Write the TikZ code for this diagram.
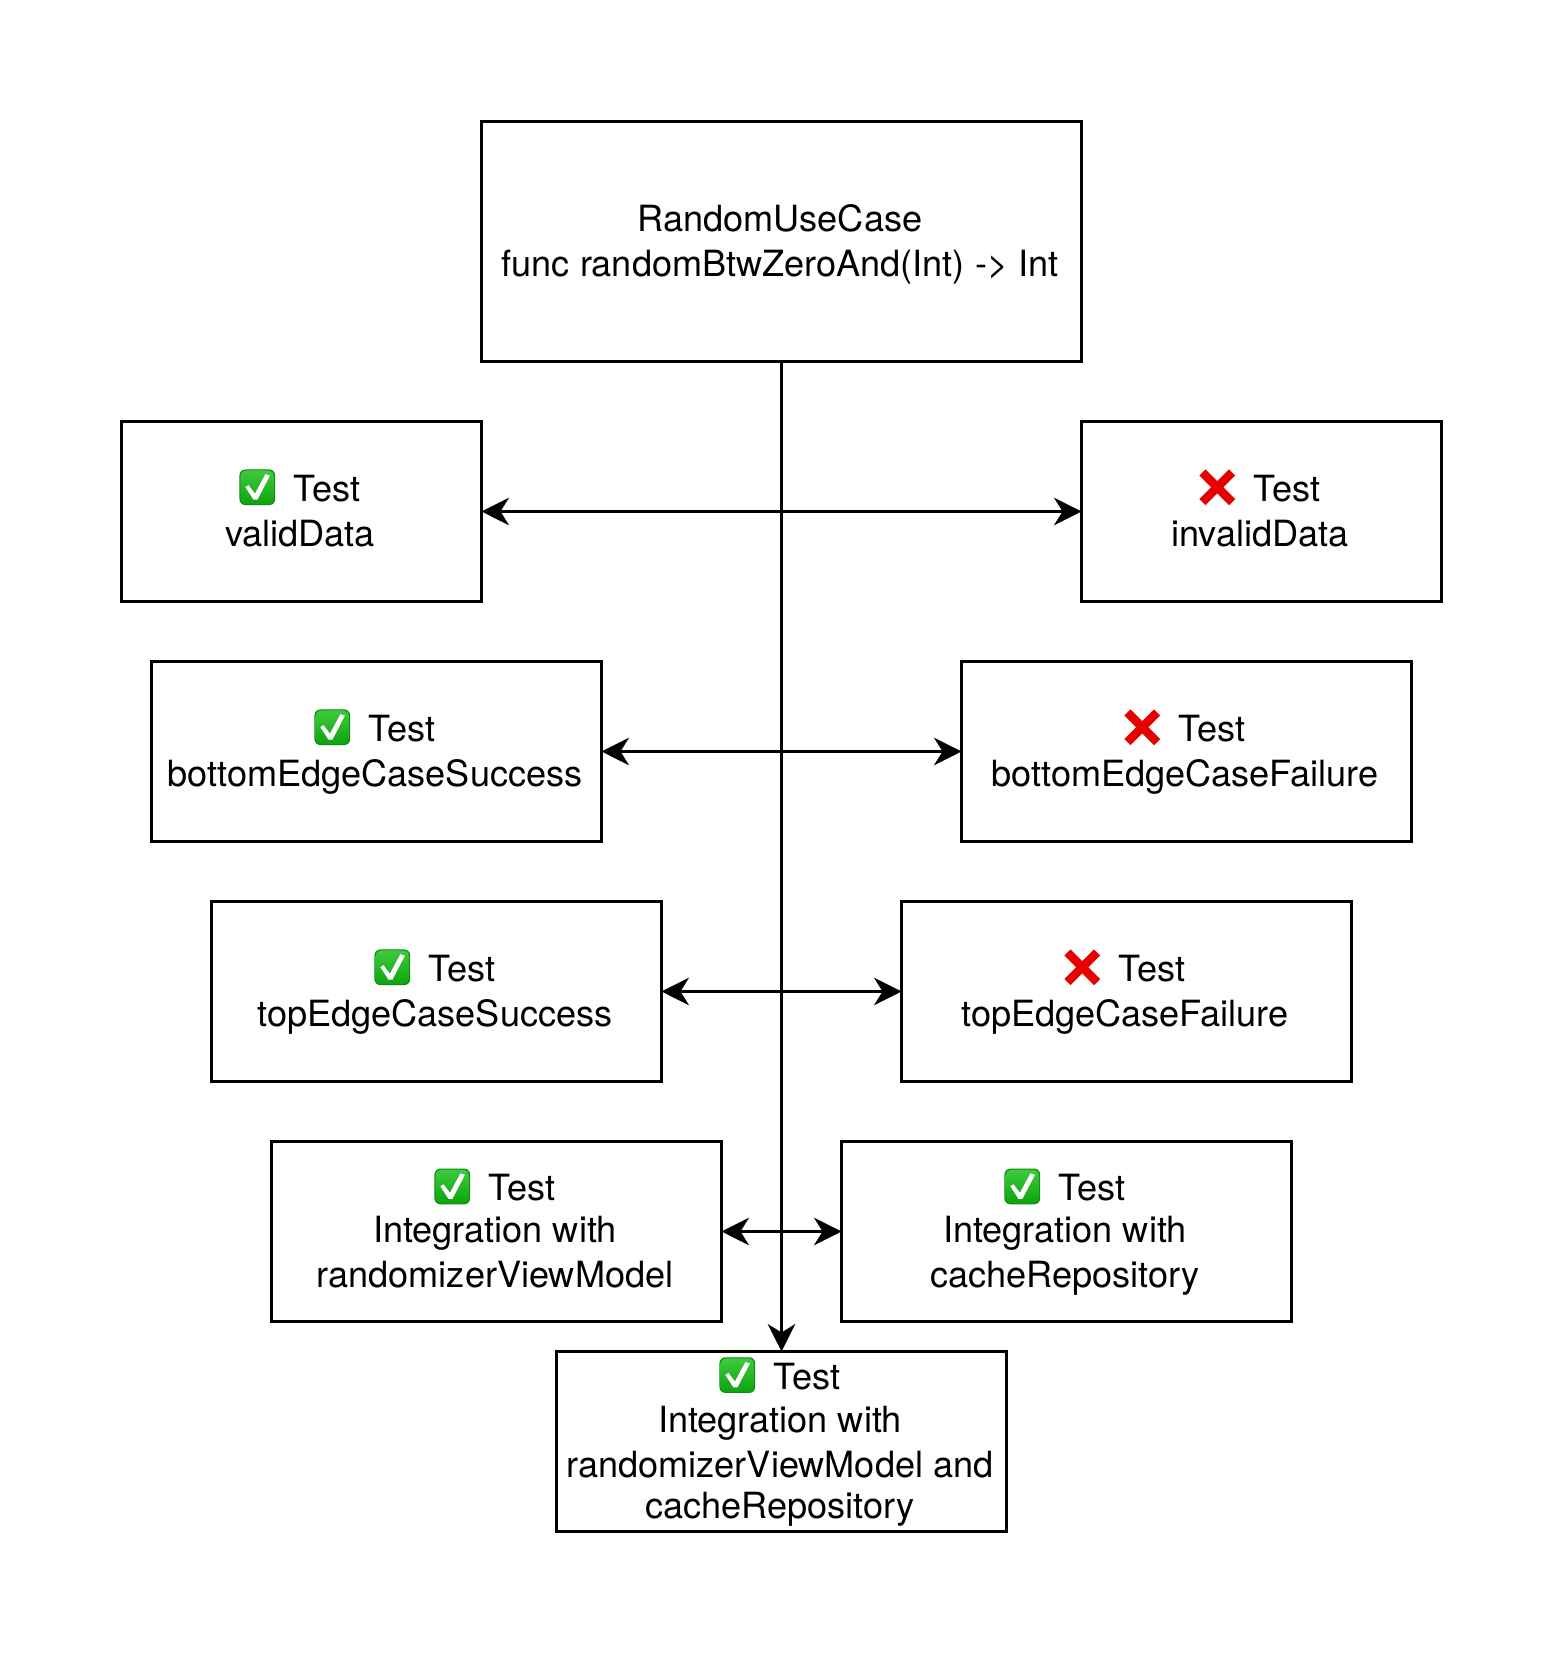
\documentclass[tikz,border=0pt]{standalone}
\usepackage{fontspec}
\setmainfont{TeX Gyre Heros}
\usetikzlibrary{arrows.meta}

\definecolor{okgreen}{HTML}{0FA30F}
\definecolor{okdark}{HTML}{0B8A0B}
\definecolor{oklight}{HTML}{3CCB3C}
\definecolor{failred}{HTML}{E60000}

\newcommand{\okmark}{\rule{0pt}{19.1pt}\raisebox{-1.9pt}{\tikz[x=0.569pt,y=0.569pt]{
	\fill[okdark,rounded corners=3.4pt] (0,0) rectangle (35.7,35.7);
	\shade[top color=oklight,bottom color=okgreen,rounded corners=3pt] (1,1) rectangle (34.7,34.7);
	\fill[white] (6,18) -- (9,20) -- (15.5,11.5) -- (26,31) -- (30.5,29.5) -- (18,5.5) -- (14,5.5) -- cycle;
}}\hspace{10.7pt}}
\newcommand{\failmark}{\rule{0pt}{19.1pt}\raisebox{-1.9pt}{\tikz[x=0.569pt,y=0.569pt]{
	\useasboundingbox (0,0) rectangle (35.7,35.7);
	\draw[failred,line width=4.9pt] (3,3) -- (32.7,32.7) (3,32.7) -- (32.7,3);
}}\hspace{10.7pt}}

\begin{document}
\begin{tikzpicture}[>={Stealth[length=15.6pt,width=15.6pt,inset=4.8pt]},
		testbox/.style={draw,line width=1.7pt,outer sep=0pt,inner sep=0pt,align=center,minimum width=#1,minimum height=3.6cm,
		font=\fontsize{20.55}{25.6}\selectfont,execute at end node={\rule[-4.55pt]{0pt}{4.55pt}\kern1.7pt}}]

		\useasboundingbox (0,0) rectangle (31.26,33.06);

		\node at (15.63,28.23) [testbox=12cm,minimum height=4.8cm] (RandomUseCase) {\rule{0pt}{19.2pt}RandomUseCase\\func randomBtwZeroAnd(Int) -> Int};

		\node at (6.03,22.83) [testbox=7.2cm] (validData) {\okmark Test\\validData};
		\node at (25.23,22.83) [testbox=7.2cm] (invalidData) {\failmark Test\\invalidData};

		\node at (7.53,18.03) [testbox=9cm] (bottomSuccess) {\okmark Test\\bottomEdgeCaseSuccess};
		\node at (23.73,18.03) [testbox=9cm] (bottomFailure) {\failmark Test\\bottomEdgeCaseFailure};

		\node at (8.73,13.23) [testbox=9cm] (topSuccess) {\okmark Test\\topEdgeCaseSuccess};
		\node at (22.53,13.23) [testbox=9cm] (topFailure) {\failmark Test\\topEdgeCaseFailure};

		\node at (9.93,8.43) [testbox=9cm] (viewModel) {\okmark Test\\[-1.9pt]Integration with\\randomizerViewModel};
		\node at (21.33,8.43) [testbox=9cm] (cacheRepo) {\okmark Test\\[-1.9pt]Integration with\\cacheRepository};

		\node at (15.63,4.23) [testbox=9cm] (viewModelCache) {\okmark Test\\[-1.3pt]Integration with\\randomizerViewModel and\\[-1.9pt]cacheRepository};

		\path[line width=1.7pt]
		(RandomUseCase) edge [->] (viewModelCache)
		(validData) edge [<->] (invalidData)
		(bottomSuccess) edge [<->] (bottomFailure)
		(topSuccess) edge [<->] (topFailure)
		(viewModel) edge [<->] (cacheRepo);
	\end{tikzpicture}
\end{document}
